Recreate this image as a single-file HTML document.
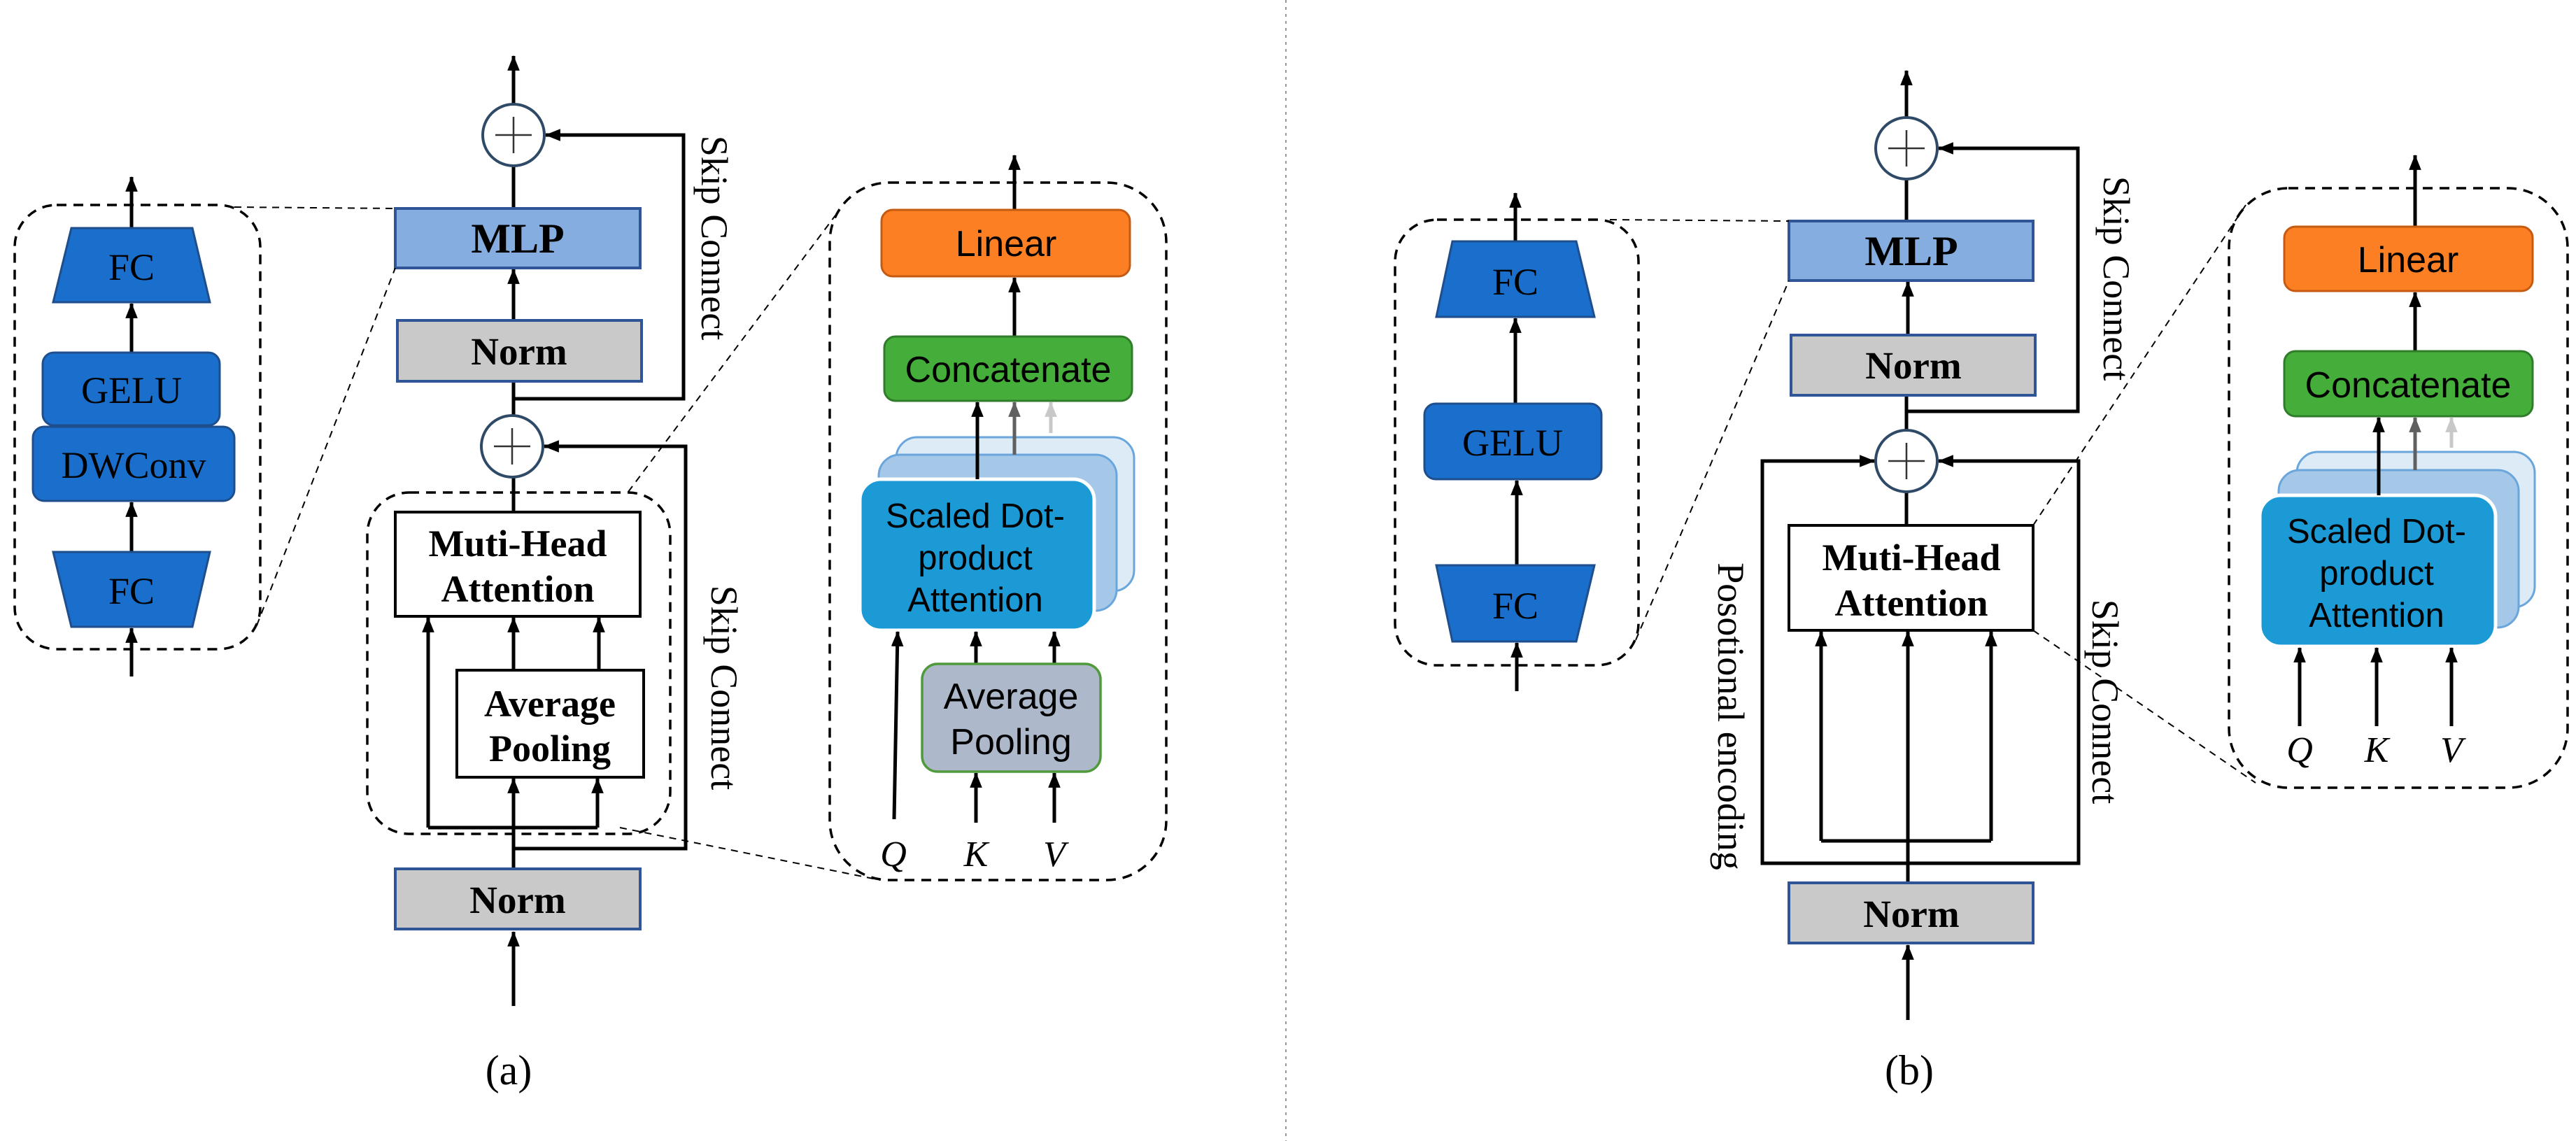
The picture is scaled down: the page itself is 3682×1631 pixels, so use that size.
<!DOCTYPE html>
<html><head><meta charset="utf-8"><style>
html,body{margin:0;padding:0;background:#fff;}
svg{display:block;}
.serif{font-family:"Liberation Serif",serif;}
.sans{font-family:"Liberation Sans",sans-serif;}
</style></head><body>
<svg width="3682" height="1631" viewBox="0 0 3682 1631" xmlns="http://www.w3.org/2000/svg">
<defs>
<marker id="a" viewBox="0 0 20 16" refX="19" refY="8" markerWidth="22" markerHeight="18" markerUnits="userSpaceOnUse" orient="auto"><path d="M0,0 L20,8 L0,16 z" fill="#000"/></marker>
<marker id="ag" viewBox="0 0 20 16" refX="19" refY="8" markerWidth="22" markerHeight="18" markerUnits="userSpaceOnUse" orient="auto"><path d="M0,0 L20,8 L0,16 z" fill="#606060"/></marker>
<marker id="al" viewBox="0 0 20 16" refX="19" refY="8" markerWidth="22" markerHeight="18" markerUnits="userSpaceOnUse" orient="auto"><path d="M0,0 L20,8 L0,16 z" fill="#c8c8c8"/></marker>
</defs>
<rect width="3682" height="1631" fill="#fff"/>
<line x1="1838" y1="0" x2="1838" y2="1631" stroke="#999" stroke-width="2" stroke-dasharray="4 6"/>

<!-- ================= PANEL A ================= -->
<g stroke="#000" stroke-width="5" fill="none">
  <line x1="734" y1="149" x2="734" y2="80" marker-end="url(#a)"/>
  <line x1="734" y1="237" x2="734" y2="298"/>
  <line x1="734" y1="458" x2="734" y2="385" marker-end="url(#a)"/>
  <polyline points="734,545 734,570 977,570 977,193 780,193" marker-end="url(#a)"/>
  <line x1="734" y1="570" x2="734" y2="594"/>
  <line x1="734" y1="682" x2="734" y2="732"/>
  <polyline points="734,1213 980,1213 980,638 778,638" marker-end="url(#a)"/>
  <polyline points="734,1242 734,1113" marker-end="url(#a)"/>
  <polyline points="612,1183 612,883" marker-end="url(#a)"/>
  <line x1="612" y1="1183" x2="854" y2="1183"/>
  <line x1="854" y1="1183" x2="854" y2="1113" marker-end="url(#a)"/>
  <line x1="734" y1="958" x2="734" y2="883" marker-end="url(#a)"/>
  <line x1="856" y1="958" x2="856" y2="883" marker-end="url(#a)"/>
  <line x1="734" y1="1438" x2="734" y2="1332" marker-end="url(#a)"/>
</g>
<circle cx="734" cy="193" r="44" fill="#fff" stroke="#2f4a66" stroke-width="4"/>
<path d="M708,193 H760 M734,167 V219" stroke="#333" stroke-width="2.5"/>
<circle cx="732" cy="638" r="44" fill="#fff" stroke="#2f4a66" stroke-width="4"/>
<path d="M706,638 H758 M732,612 V664" stroke="#333" stroke-width="2.5"/>

<rect x="565" y="298" width="350" height="85" fill="#85ade0" stroke="#2f5597" stroke-width="4"/>
<text x="740" y="361" class="serif" font-size="60" font-weight="bold" text-anchor="middle">MLP</text>
<rect x="568" y="458" width="349" height="87" fill="#c9c9c9" stroke="#2f5597" stroke-width="4"/>
<text x="742" y="521" class="serif" font-size="55" font-weight="bold" text-anchor="middle">Norm</text>
<rect x="565" y="732" width="350" height="149" fill="#fff" stroke="#000" stroke-width="4"/>
<text x="740" y="795" class="serif" font-size="54" font-weight="bold" text-anchor="middle">Muti-Head</text>
<text x="740" y="860" class="serif" font-size="54" font-weight="bold" text-anchor="middle">Attention</text>
<rect x="653" y="958" width="267" height="153" fill="#fff" stroke="#000" stroke-width="4"/>
<text x="786" y="1024" class="serif" font-size="54" font-weight="bold" text-anchor="middle">Average</text>
<text x="786" y="1088" class="serif" font-size="54" font-weight="bold" text-anchor="middle">Pooling</text>
<rect x="565" y="1242" width="350" height="86" fill="#c9c9c9" stroke="#2f5597" stroke-width="4"/>
<text x="740" y="1305" class="serif" font-size="55" font-weight="bold" text-anchor="middle">Norm</text>

<rect x="525" y="704" width="433" height="488" rx="60" fill="none" stroke="#000" stroke-width="3.5" stroke-dasharray="14 10"/>
<text transform="translate(1021,340) rotate(90)" class="serif" font-size="54" text-anchor="middle" dominant-baseline="central">Skip Connect</text>
<text transform="translate(1035,983) rotate(90)" class="serif" font-size="54" text-anchor="middle" dominant-baseline="central">Skip Connect</text>
<text x="727" y="1550" class="serif" font-size="60" text-anchor="middle">(a)</text>

<!-- left detail a -->
<rect x="21" y="293" width="351" height="635" rx="60" fill="none" stroke="#000" stroke-width="3.5" stroke-dasharray="14 10"/>
<g stroke="#000" stroke-width="5" fill="none">
  <line x1="188" y1="326" x2="188" y2="253" marker-end="url(#a)"/>
  <line x1="188" y1="504" x2="188" y2="434" marker-end="url(#a)"/>
  <line x1="188" y1="789" x2="188" y2="718" marker-end="url(#a)"/>
  <line x1="188" y1="967" x2="188" y2="898" marker-end="url(#a)"/>
</g>
<polygon points="102,326 275,326 300,432 76,432" fill="#1a6fcc" stroke="#1f4e8c" stroke-width="3"/>
<text x="188" y="400" class="serif" font-size="54" text-anchor="middle">FC</text>
<rect x="61" y="504" width="253" height="104" rx="16" fill="#1a6fcc" stroke="#1f4e8c" stroke-width="3"/>
<text x="188" y="576" class="serif" font-size="54" text-anchor="middle">GELU</text>
<rect x="47" y="610" width="288" height="106" rx="16" fill="#1a6fcc" stroke="#1f4e8c" stroke-width="3"/>
<text x="191" y="683" class="serif" font-size="54" text-anchor="middle">DWConv</text>
<polygon points="76,789 300,789 275,896 102,896" fill="#1a6fcc" stroke="#1f4e8c" stroke-width="3"/>
<text x="188" y="863" class="serif" font-size="54" text-anchor="middle">FC</text>
<g stroke="#000" stroke-width="2" stroke-dasharray="10 8" fill="none">
  <line x1="335" y1="296" x2="565" y2="298"/>
  <line x1="367" y1="894" x2="565" y2="383"/>
  <line x1="898" y1="703" x2="1194" y2="308"/>
  <line x1="886" y1="1183" x2="1258" y2="1258"/>
</g>

<!-- right detail a -->
<rect x="1186" y="261" width="481" height="997" rx="85" fill="none" stroke="#000" stroke-width="3.5" stroke-dasharray="14 10"/>
<g stroke="#000" stroke-width="5" fill="none">
  <line x1="1450" y1="303" x2="1450" y2="222" marker-end="url(#a)"/>
  <line x1="1450" y1="481" x2="1450" y2="397" marker-end="url(#a)"/>
</g>
<rect x="1260" y="300" width="355" height="95" rx="16" fill="#fd7f23" stroke="#c55a11" stroke-width="3"/>
<text x="1438" y="366" class="sans" font-size="52" text-anchor="middle">Linear</text>
<rect x="1264" y="481" width="354" height="92" rx="16" fill="#45ad3a" stroke="#2f7d2a" stroke-width="3"/>
<text x="1441" y="546" class="sans" font-size="52" text-anchor="middle">Concatenate</text>
<rect x="1281" y="625" width="340" height="220" rx="30" fill="#ddebf7" stroke="#6aa6dc" stroke-width="3"/>
<rect x="1256" y="650" width="340" height="223" rx="30" fill="#a6c8e8" stroke="#6aa6dc" stroke-width="3"/>
<line x1="1450" y1="650" x2="1450" y2="575" stroke="#606060" stroke-width="5" marker-end="url(#ag)"/>
<line x1="1502" y1="619" x2="1502" y2="575" stroke="#c8c8c8" stroke-width="5" marker-end="url(#al)"/>
<rect x="1229" y="685" width="335" height="216" rx="30" fill="#1b9ad6" stroke="#fff" stroke-width="5"/>
<line x1="1397" y1="685" x2="1397" y2="575" stroke="#000" stroke-width="5" marker-end="url(#a)"/>
<text x="1394" y="754" class="sans" font-size="49" text-anchor="middle">Scaled Dot-</text>
<text x="1394" y="814" class="sans" font-size="49" text-anchor="middle">product</text>
<text x="1394" y="874" class="sans" font-size="49" text-anchor="middle">Attention</text>
<g stroke="#000" stroke-width="5" fill="none">
  <line x1="1278" y1="1171" x2="1283" y2="903" marker-end="url(#a)"/>
  <line x1="1395" y1="949" x2="1395" y2="903" marker-end="url(#a)"/>
  <line x1="1507" y1="949" x2="1507" y2="903" marker-end="url(#a)"/>
  <line x1="1395" y1="1176" x2="1395" y2="1105" marker-end="url(#a)"/>
  <line x1="1507" y1="1176" x2="1507" y2="1105" marker-end="url(#a)"/>
</g>
<rect x="1318" y="949" width="255" height="154" rx="22" fill="#adb9ca" stroke="#4f9a3a" stroke-width="3.5"/>
<text x="1445" y="1013" class="sans" font-size="52" text-anchor="middle">Average</text>
<text x="1445" y="1078" class="sans" font-size="52" text-anchor="middle">Pooling</text>
<text x="1277" y="1238" class="serif" font-size="52" font-style="italic" text-anchor="middle">Q</text>
<text x="1395" y="1238" class="serif" font-size="52" font-style="italic" text-anchor="middle">K</text>
<text x="1507" y="1238" class="serif" font-size="52" font-style="italic" text-anchor="middle">V</text>

<!-- ================= PANEL B ================= -->
<g stroke="#000" stroke-width="5" fill="none">
  <line x1="2725" y1="168" x2="2725" y2="101" marker-end="url(#a)"/>
  <line x1="2725" y1="256" x2="2725" y2="316"/>
  <line x1="2727" y1="479" x2="2727" y2="403" marker-end="url(#a)"/>
  <polyline points="2725,565 2725,588 2970,588 2970,212 2771,212" marker-end="url(#a)"/>
  <line x1="2725" y1="588" x2="2725" y2="615"/>
  <line x1="2725" y1="703" x2="2725" y2="751"/>
  <polyline points="2681,659 2519,659 2519,1234 2971,1234 2971,659 2771,659" fill="none"/>
  <line x1="2530" y1="659" x2="2679" y2="659" marker-end="url(#a)"/>
  <line x1="2960" y1="659" x2="2771" y2="659" marker-end="url(#a)"/>
  <line x1="2727" y1="1262" x2="2727" y2="903" marker-end="url(#a)"/>
  <line x1="2603" y1="1202" x2="2603" y2="903" marker-end="url(#a)"/>
  <line x1="2846" y1="1202" x2="2846" y2="903" marker-end="url(#a)"/>
  <line x1="2603" y1="1202" x2="2846" y2="1202"/>
  <line x1="2727" y1="1458" x2="2727" y2="1351" marker-end="url(#a)"/>
</g>
<circle cx="2725" cy="212" r="44" fill="#fff" stroke="#2f4a66" stroke-width="4"/>
<path d="M2699,212 H2751 M2725,186 V238" stroke="#333" stroke-width="2.5"/>
<circle cx="2725" cy="659" r="44" fill="#fff" stroke="#2f4a66" stroke-width="4"/>
<path d="M2699,659 H2751 M2725,633 V685" stroke="#333" stroke-width="2.5"/>

<rect x="2557" y="316" width="349" height="85" fill="#85ade0" stroke="#2f5597" stroke-width="4"/>
<text x="2732" y="379" class="serif" font-size="60" font-weight="bold" text-anchor="middle">MLP</text>
<rect x="2560" y="479" width="349" height="86" fill="#c9c9c9" stroke="#2f5597" stroke-width="4"/>
<text x="2735" y="541" class="serif" font-size="55" font-weight="bold" text-anchor="middle">Norm</text>
<rect x="2557" y="751" width="349" height="150" fill="#fff" stroke="#000" stroke-width="4"/>
<text x="2732" y="815" class="serif" font-size="54" font-weight="bold" text-anchor="middle">Muti-Head</text>
<text x="2732" y="880" class="serif" font-size="54" font-weight="bold" text-anchor="middle">Attention</text>
<rect x="2557" y="1262" width="349" height="86" fill="#c9c9c9" stroke="#2f5597" stroke-width="4"/>
<text x="2732" y="1325" class="serif" font-size="55" font-weight="bold" text-anchor="middle">Norm</text>

<text transform="translate(3025,398) rotate(90)" class="serif" font-size="54" text-anchor="middle" dominant-baseline="central">Skip Connect</text>
<text transform="translate(3009,1003) rotate(90)" class="serif" font-size="54" text-anchor="middle" dominant-baseline="central">Skip Connect</text>
<text transform="translate(2474,1024) rotate(90)" class="serif" font-size="54" text-anchor="middle" dominant-baseline="central">Posotional encoding</text>
<text x="2729" y="1550" class="serif" font-size="60" text-anchor="middle">(b)</text>

<!-- left detail b -->
<rect x="1994" y="314" width="348" height="637" rx="60" fill="none" stroke="#000" stroke-width="3.5" stroke-dasharray="14 10"/>
<g stroke="#000" stroke-width="5" fill="none">
  <line x1="2166" y1="345" x2="2166" y2="276" marker-end="url(#a)"/>
  <line x1="2166" y1="577" x2="2166" y2="455" marker-end="url(#a)"/>
  <line x1="2168" y1="808" x2="2168" y2="687" marker-end="url(#a)"/>
  <line x1="2168" y1="988" x2="2168" y2="919" marker-end="url(#a)"/>
</g>
<polygon points="2076,345 2253,345 2279,453 2053,453" fill="#1a6fcc" stroke="#1f4e8c" stroke-width="3"/>
<text x="2166" y="421" class="serif" font-size="54" text-anchor="middle">FC</text>
<rect x="2036" y="577" width="253" height="108" rx="16" fill="#1a6fcc" stroke="#1f4e8c" stroke-width="3"/>
<text x="2162" y="651" class="serif" font-size="54" text-anchor="middle">GELU</text>
<polygon points="2053,808 2279,808 2253,917 2076,917" fill="#1a6fcc" stroke="#1f4e8c" stroke-width="3"/>
<text x="2166" y="884" class="serif" font-size="54" text-anchor="middle">FC</text>
<g stroke="#000" stroke-width="2" stroke-dasharray="10 8" fill="none">
  <line x1="2301" y1="314" x2="2557" y2="316"/>
  <line x1="2338" y1="915" x2="2557" y2="401"/>
  <line x1="2906" y1="751" x2="3210" y2="293"/>
  <line x1="2906" y1="901" x2="3224" y2="1119"/>
</g>

<!-- right detail b -->
<rect x="3186" y="269" width="484" height="857" rx="85" fill="none" stroke="#000" stroke-width="3.5" stroke-dasharray="14 10"/>
<g stroke="#000" stroke-width="5" fill="none">
  <line x1="3452" y1="326" x2="3452" y2="222" marker-end="url(#a)"/>
  <line x1="3452" y1="502" x2="3452" y2="418" marker-end="url(#a)"/>
</g>
<rect x="3265" y="324" width="355" height="92" rx="16" fill="#fd7f23" stroke="#c55a11" stroke-width="3"/>
<text x="3442" y="389" class="sans" font-size="52" text-anchor="middle">Linear</text>
<rect x="3265" y="502" width="355" height="93" rx="16" fill="#45ad3a" stroke="#2f7d2a" stroke-width="3"/>
<text x="3442" y="568" class="sans" font-size="52" text-anchor="middle">Concatenate</text>
<rect x="3283" y="646" width="340" height="222" rx="30" fill="#ddebf7" stroke="#6aa6dc" stroke-width="3"/>
<rect x="3257" y="672" width="343" height="225" rx="30" fill="#a6c8e8" stroke="#6aa6dc" stroke-width="3"/>
<line x1="3452" y1="672" x2="3452" y2="597" stroke="#606060" stroke-width="5" marker-end="url(#ag)"/>
<line x1="3504" y1="640" x2="3504" y2="597" stroke="#c8c8c8" stroke-width="5" marker-end="url(#al)"/>
<rect x="3230" y="708" width="337" height="216" rx="30" fill="#1b9ad6" stroke="#fff" stroke-width="5"/>
<line x1="3400" y1="708" x2="3400" y2="597" stroke="#000" stroke-width="5" marker-end="url(#a)"/>
<text x="3397" y="776" class="sans" font-size="49" text-anchor="middle">Scaled Dot-</text>
<text x="3397" y="836" class="sans" font-size="49" text-anchor="middle">product</text>
<text x="3397" y="896" class="sans" font-size="49" text-anchor="middle">Attention</text>
<g stroke="#000" stroke-width="5" fill="none">
  <line x1="3287" y1="1038" x2="3287" y2="926" marker-end="url(#a)"/>
  <line x1="3397" y1="1038" x2="3397" y2="926" marker-end="url(#a)"/>
  <line x1="3504" y1="1038" x2="3504" y2="926" marker-end="url(#a)"/>
</g>
<text x="3287" y="1089" class="serif" font-size="52" font-style="italic" text-anchor="middle">Q</text>
<text x="3397" y="1089" class="serif" font-size="52" font-style="italic" text-anchor="middle">K</text>
<text x="3504" y="1089" class="serif" font-size="52" font-style="italic" text-anchor="middle">V</text>
</svg>
</body></html>
